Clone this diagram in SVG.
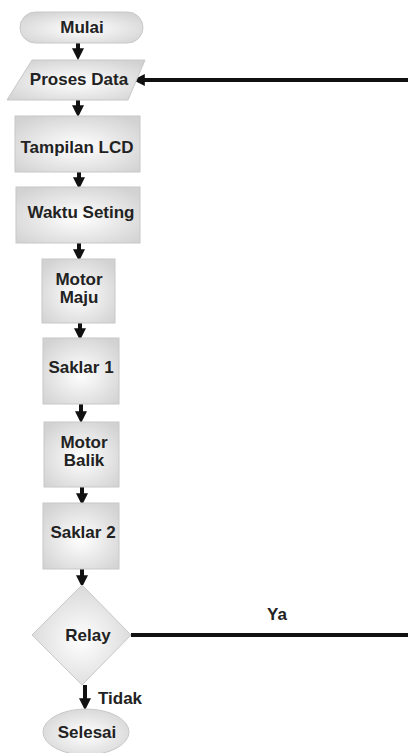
<svg xmlns="http://www.w3.org/2000/svg" width="408" height="753" viewBox="0 0 408 753">
<defs>
<radialGradient id="g" cx="50%" cy="55%" r="65%">
<stop offset="0" stop-color="#ffffff"/>
<stop offset="1" stop-color="#d2d2d2"/>
</radialGradient>
<marker id="ah" markerWidth="3" markerHeight="3" refX="1.2" refY="1.5" orient="auto" markerUnits="strokeWidth">
<path d="M0,0 L3,1.5 L0,3 Z" fill="#111"/>
</marker>
<style>
.n{fill:url(#g);stroke:#c8c8c8;stroke-width:1}
.t{font-family:"Liberation Sans",Arial,sans-serif;font-weight:bold;font-size:17px;fill:#222;text-anchor:middle}
.c{stroke:#111;stroke-width:4;fill:none}
</style>
</defs>
<g id="connectors">
<line class="c" x1="78" y1="43" x2="78" y2="53" marker-end="url(#ah)"/>
<line class="c" x1="78" y1="100" x2="78" y2="110" marker-end="url(#ah)"/>
<line class="c" x1="79" y1="172" x2="79" y2="182" marker-end="url(#ah)"/>
<line class="c" x1="79" y1="243" x2="79" y2="254" marker-end="url(#ah)"/>
<line class="c" x1="80" y1="323" x2="80" y2="333" marker-end="url(#ah)"/>
<line class="c" x1="81" y1="404" x2="81" y2="416" marker-end="url(#ah)"/>
<line class="c" x1="82" y1="487" x2="82" y2="498" marker-end="url(#ah)"/>
<line class="c" x1="82" y1="569" x2="82" y2="580" marker-end="url(#ah)"/>
<line class="c" x1="85" y1="685" x2="85" y2="703" marker-end="url(#ah)"/>
<line class="c" x1="408" y1="80" x2="140" y2="80" marker-end="url(#ah)"/>
<line class="c" x1="131" y1="635" x2="408" y2="635"/>
<text class="t" x="277" y="620" font-size="16">Ya</text>
<text class="t" x="120" y="704" font-size="16">Tidak</text>
</g>
<g id="mulai">
<rect class="n" x="20" y="12" width="123" height="31" rx="15.5"/>
<text class="t" x="82" y="33">Mulai</text>
</g>
<g id="proses-data">
<polygon class="n" points="32,60 145,60 128,100 7,100"/>
<text class="t" x="79" y="85">Proses Data</text>
</g>
<g id="tampilan-lcd">
<rect class="n" x="15" y="116" width="125" height="56"/>
<text class="t" x="77" y="153" font-size="17.5">Tampilan LCD</text>
</g>
<g id="waktu-seting">
<rect class="n" x="16" y="187" width="124" height="56"/>
<text class="t" x="81" y="218" font-size="17.5">Waktu Seting</text>
</g>
<g id="motor-maju">
<rect class="n" x="42" y="259" width="73" height="64"/>
<text class="t" x="79" y="285" font-size="16">Motor</text>
<text class="t" x="79" y="303" font-size="16">Maju</text>
</g>
<g id="saklar-1">
<rect class="n" x="43" y="338" width="76" height="66"/>
<text class="t" x="81" y="373">Saklar 1</text>
</g>
<g id="motor-balik">
<rect class="n" x="44" y="422" width="75" height="65"/>
<text class="t" x="84" y="448" font-size="16">Motor</text>
<text class="t" x="84" y="466" font-size="16">Balik</text>
</g>
<g id="saklar-2">
<rect class="n" x="43" y="503" width="76" height="66"/>
<text class="t" x="83" y="538">Saklar 2</text>
</g>
<g id="relay">
<polygon class="n" points="82,585 131,635 82,685 32,635"/>
<text class="t" x="88" y="641">Relay</text>
</g>
<g id="selesai">
<ellipse class="n" cx="86" cy="732" rx="43" ry="23"/>
<text class="t" x="87" y="738">Selesai</text>
</g>
</svg>
